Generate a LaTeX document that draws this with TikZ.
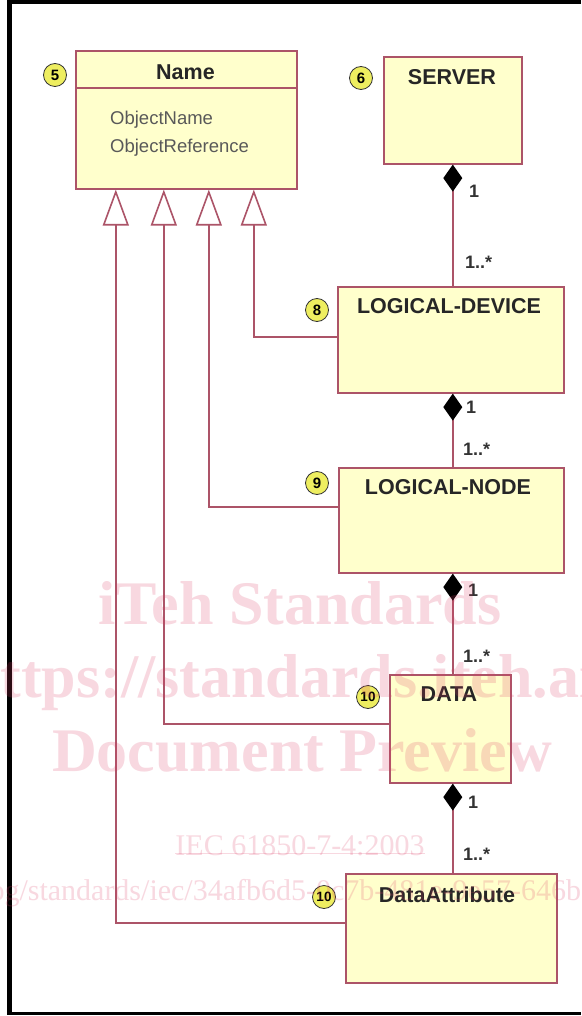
\documentclass[tikz,border=0pt]{standalone}
\usepackage{fontspec}
\setmainfont{Liberation Sans}
\newfontfamily\wmfont{Liberation Serif}
\usetikzlibrary{arrows.meta}
\definecolor{boxfill}{RGB}{255,255,204}
\definecolor{boxline}{RGB}{172,84,104}
\definecolor{badge}{RGB}{238,238,96}
\definecolor{wmark}{RGB}{220,60,100}
\begin{document}
\begin{tikzpicture}[x=1pt,y=-1pt,
  umlbox/.style={draw=boxline, line width=1.6pt, fill=boxfill, inner sep=0pt, rectangle, anchor=north west},
  title/.style={font=\fontsize{21.5}{23}\selectfont\bfseries, text=black!85},
  attr/.style={font=\fontsize{18.5}{22}\selectfont, text=black!65, anchor=west, inner sep=0pt},
  badgest/.style={circle, draw=black!80, line width=0.8pt, fill=badge, minimum size=23pt, inner sep=0pt, font=\fontsize{15}{15}\selectfont\bfseries},
  gen/.style={draw=boxline, line width=1.6pt, -{Triangle[open, length=36pt, width=26pt, fill=white]}},
  comp/.style={draw=boxline, line width=1.6pt, {Diamond[length=27pt, width=19pt, color=black, fill=black]}-},
  mult/.style={font=\fontsize{18}{18}\selectfont\bfseries, text=black!80, anchor=west, inner sep=0pt},
  wm/.style={text=wmark, opacity=0.2, inner sep=0pt},
  wmbig/.style={wm, font=\wmfont\fontsize{62}{62}\selectfont\bfseries},
  wmsmall/.style={wm, font=\wmfont\fontsize{30}{30}\selectfont}
]
\useasboundingbox (0,0) rectangle (581,1016);
\fill[white] (0,0) rectangle (581,1016);

% frame
\fill[black] (7,0) rectangle (581,4);
\fill[black] (7,0) rectangle (12,1015);
\fill[black] (7,1012) rectangle (581,1015);

% boxes
\node[umlbox, minimum width=221pt, minimum height=138pt] (name) at (75,50) {};
\node[umlbox, minimum width=138pt, minimum height=107pt] (server) at (383,56) {};
\node[umlbox, minimum width=226pt, minimum height=106pt] (ld) at (337,286) {};
\node[umlbox, minimum width=225pt, minimum height=105pt] (ln) at (338,467) {};
\node[umlbox, minimum width=121pt, minimum height=108pt] (data) at (389,674) {};
\node[umlbox, minimum width=211pt, minimum height=109pt] (da) at (345,873) {};

\draw[boxline, line width=1.6pt] (name.west |- 0,88) -- (name.east |- 0,88);

% titles
\node[title] (nameT) at (185.5,72) {Name};
\node[attr] (attr1) at (110,120) {ObjectName};
\node[attr] (attr2) at (110,148) {ObjectReference};
\node[title] (serverT) at (452,77) {SERVER};
\node[title] (ldT) at (449,306) {LOGICAL-DEVICE};
\node[title] (lnT) at (448,487) {LOGICAL-NODE};
\node[title] (dataT) at (449,694) {DATA};
\node[title] (daT) at (447,895) {DataAttribute};

% badges
\node[badgest] (b5) at (55,75) {5};
\node[badgest] (b6) at (361,78) {6};
\node[badgest] (b8) at (317,310) {8};
\node[badgest] (b9) at (317,483) {9};
\node[badgest, font=\fontsize{13.5}{13.5}\selectfont\bfseries] (b10a) at (368,697) {10};
\node[badgest, font=\fontsize{13.5}{13.5}\selectfont\bfseries] (b10b) at (324,897) {10};

% composition
\draw[comp] (server.south) -- (server.south |- ld.north);
\draw[comp] (ld.south -| server.south) -- (ln.north -| server.south);
\draw[comp] (ln.south -| server.south) -- (data.north -| server.south);
\draw[comp] (data.south -| server.south) -- (da.north -| server.south);

\node[mult] (m1) at (469,191) {1};
\node[mult] (m2) at (465,262) {1..*};
\node[mult] (m3) at (466,407) {1};
\node[mult] (m4) at (463,449) {1..*};
\node[mult] (m5) at (468,590) {1};
\node[mult] (m6) at (463,656) {1..*};
\node[mult] (m7) at (468,802) {1};
\node[mult] (m8) at (463,854) {1..*};

% generalization
\draw[gen] ([yshift=3pt]ld.west) -| ([xshift=67.5pt]name.south);
\draw[gen] ([yshift=13.5pt]ln.west) -| ([xshift=22.5pt]name.south);
\draw[gen] ([yshift=5pt]data.west) -| ([xshift=-22.5pt]name.south);
\draw[gen] ([yshift=5.5pt]da.west) -| ([xshift=-70.5pt]name.south);

% watermark
\begin{scope}
\clip (0,0) rectangle (581,1016);
\node[wmbig] (w1) at (300,603) {iTeh Standards};
\node[wmbig, anchor=west] (w2) at (-34,683) {https://standards.iteh.ai};
\node[wmbig] (w3) at (302,750) {Document Preview};
\node[wmsmall] (w4) at (300,846) {IEC 61850-7-4:2003};
\draw[wmark, opacity=0.2, line width=1pt] (w4.south west) ++(0,-3) coordinate (u1) -- (w4.south east |- u1);
\node[wmsmall, anchor=west] (w5) at (-354,893) {https://standards.iteh.ai/catalog/standards/iec/34afb6d5-0c7b-481e-9e57-646b1a2e3d0f/iec-61850-7-4-2003};
\end{scope}
\end{tikzpicture}
\end{document}
